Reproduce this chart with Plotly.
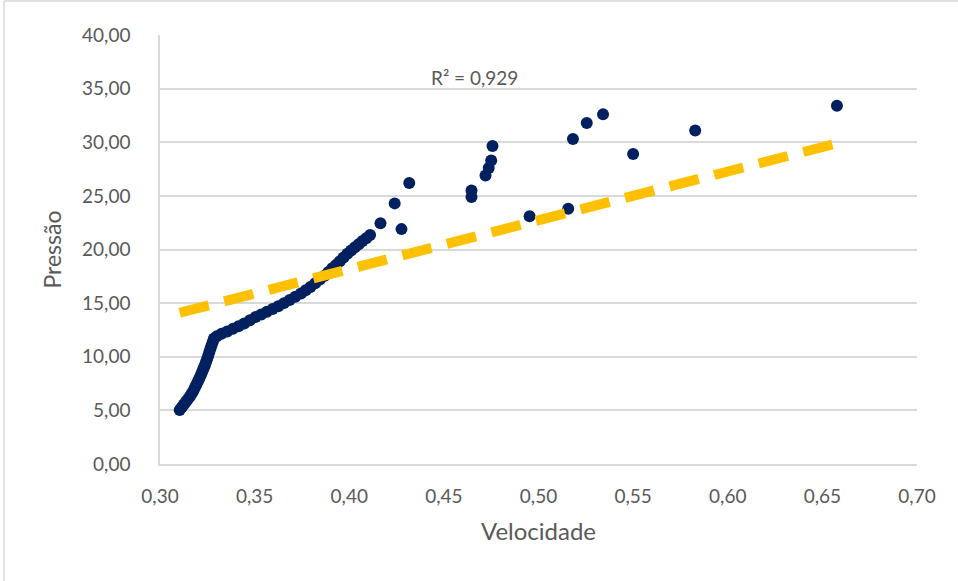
import plotly.graph_objects as go

# Data
velocidade = [
    0.3104, 0.3115, 0.3126, 0.3137, 0.3148, 0.3158, 0.3167, 0.3176, 0.3184, 0.3192,
    0.3200, 0.3208, 0.3216, 0.3223, 0.3230, 0.3237, 0.3243, 0.3249, 0.3255, 0.3261,
    0.3267, 0.3273, 0.3279, 0.3285, 0.3300, 0.3325,
    0.3355, 0.3385, 0.3415, 0.3445, 0.3475, 0.3505, 0.3535, 0.3565, 0.3595, 0.3625,
    0.3655, 0.3685, 0.3715, 0.3745, 0.3770, 0.3795, 0.3820, 0.3845, 0.3870, 0.3890,
    0.3910, 0.3930, 0.3950, 0.3970, 0.3990, 0.4010, 0.4030, 0.4050, 0.4070, 0.4090,
    0.4110,
    0.4165, 0.4240, 0.4276, 0.4317, 0.4646, 0.4646, 0.4720, 0.4737, 0.4750, 0.4757,
    0.4953, 0.5157, 0.5182, 0.5255, 0.5341, 0.5500, 0.5828, 0.6577,
]
pressao = [
    5.03, 5.30, 5.55, 5.80, 6.05, 6.30, 6.55, 6.80, 7.10, 7.40,
    7.70, 8.00, 8.30, 8.60, 8.90, 9.20, 9.50, 9.80, 10.10, 10.45,
    10.80, 11.10, 11.40, 11.70, 11.90, 12.15,
    12.35, 12.60, 12.85, 13.10, 13.40, 13.70, 13.95, 14.20, 14.45, 14.70,
    15.00, 15.30, 15.60, 15.90, 16.20, 16.50, 16.85, 17.20, 17.55, 17.90,
    18.25, 18.55, 18.90, 19.25, 19.60, 19.90, 20.20, 20.50, 20.80, 21.05,
    21.35,
    22.45, 24.30, 21.90, 26.20, 24.90, 25.50, 26.90, 27.60, 28.30, 29.65,
    23.10, 23.80, 30.30, 31.80, 32.60, 28.90, 31.10, 33.40,
]

# Linear trendline endpoints
trend_x = [0.3104, 0.6577]
trend_y = [14.1, 29.9]

r2_label = "R² = 0,929"
x_ticks = [0.30, 0.35, 0.40, 0.45, 0.50, 0.55, 0.60, 0.65, 0.70]
y_ticks = [0, 5, 10, 15, 20, 25, 30, 35, 40]

FONT = "Lato"
TXT = "#595959"
GRID = "#D9D9D9"

fig = go.Figure()
fig.add_trace(go.Scatter(
    x=velocidade, y=pressao, mode="markers",
    marker=dict(color="#002060", size=12, line=dict(width=0)),
    showlegend=False, hoverinfo="x+y",
))
fig.add_trace(go.Scatter(
    x=trend_x, y=trend_y, mode="lines",
    line=dict(color="#FFC000", width=10, dash="30px,16px"),
    showlegend=False, hoverinfo="skip",
))

fig.add_annotation(
    x=0.466, y=36.0, xref="x", yref="y", text=r2_label, showarrow=False,
    font=dict(family=FONT, size=19, color=TXT),
)

L, R, T, B = 160, 41, 35, 117
W, H = 958, 581
pw = W - L - R
ph = H - T - B
# outer chart border (left and top edges visible in the reference)
fig.add_shape(type="line", xref="paper", yref="paper",
              x0=(4 - L) / pw, x1=(4 - L) / pw, y0=(H - B - H) / ph, y1=(H - B - 1) / ph,
              line=dict(color=GRID, width=1.5))
fig.add_shape(type="line", xref="paper", yref="paper",
              x0=(4 - L) / pw, x1=(W - L) / pw, y0=(H - B - 1) / ph, y1=(H - B - 1) / ph,
              line=dict(color=GRID, width=1.5))

fig.update_layout(
    width=W, height=H,
    margin=dict(l=L, r=R, t=T, b=B),
    paper_bgcolor="white", plot_bgcolor="white",
    separators=",.",
    font=dict(family=FONT, color=TXT),
    xaxis=dict(
        range=[0.30, 0.70], tickvals=x_ticks, tickformat=".2f",
        showgrid=False, zeroline=False,
        showline=True, linecolor=GRID, linewidth=1.5,
        ticks="", ticklabelstandoff=14,
        tickfont=dict(family=FONT, size=19, color=TXT),
        title=dict(text="Velocidade", font=dict(family=FONT, size=24, color=TXT), standoff=18),
    ),
    yaxis=dict(
        range=[0, 40], tickvals=y_ticks, tickformat=".2f",
        showgrid=True, gridcolor=GRID, gridwidth=1.5, zeroline=False,
        showline=True, linecolor=GRID, linewidth=1.5,
        ticks="", ticklabelstandoff=24,
        tickfont=dict(family=FONT, size=19, color=TXT),
        title=dict(text="Pressão", font=dict(family=FONT, size=23, color=TXT), standoff=14),
    ),
)

fig.write_html("out.html")
